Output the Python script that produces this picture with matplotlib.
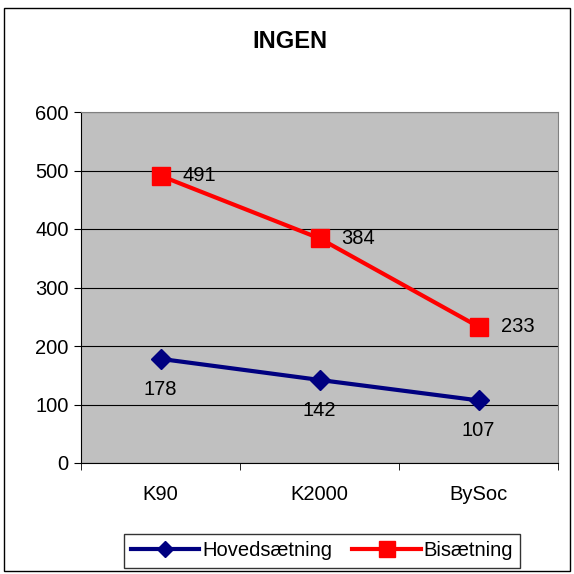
import matplotlib.pyplot as plt
from matplotlib.patches import Rectangle

plt.rcParams["font.family"] = ["Liberation Sans", "DejaVu Sans"]

categories = ["K90", "K2000", "BySoc"]
hovedsaetning = [178, 142, 107]
bisaetning = [491, 384, 233]

fs = 14.5

fig = plt.figure(figsize=(5.74, 5.74), dpi=100)
ax = fig.add_axes([81 / 574, 1 - 463 / 574, 477 / 574, 351 / 574])

# outer chart border
fig.patches.append(Rectangle((4 / 574, 3 / 574), 566 / 574, 563 / 574,
                             transform=fig.transFigure, fill=False,
                             edgecolor="black", linewidth=1.0))

ax.set_facecolor("#c0c0c0")
x = range(len(categories))

ax.plot(x, hovedsaetning, color="#000080", linewidth=3, marker="D",
        markersize=10, label="Hovedsætning", zorder=3)
ax.plot(x, bisaetning, color="#ff0000", linewidth=3, marker="s",
        markersize=13.5, label="Bisætning", zorder=3)

for i, v in enumerate(hovedsaetning):
    ax.annotate(str(v), (i, v), xytext=(0, -22), textcoords="offset points",
                ha="center", va="center", fontsize=fs)
for i, v in enumerate(bisaetning):
    ax.annotate(str(v), (i, v), xytext=(28, 0), textcoords="offset points",
                ha="center", va="center", fontsize=fs)

ax.set_xlim(-0.5, 2.5)
ax.set_ylim(0, 600)
ax.set_yticks(range(0, 601, 100))
ax.set_xticks(x)
ax.set_xticklabels(categories)
ax.set_xticks([-0.5, 0.5, 1.5, 2.5], minor=True)
ax.tick_params(axis="x", which="major", length=0, pad=16, labelsize=fs)
ax.tick_params(axis="x", which="minor", length=5, direction="out")
ax.tick_params(axis="y", length=5, direction="out", labelsize=fs, pad=4)
ax.yaxis.grid(True, color="black", linewidth=0.8)
ax.set_axisbelow(True)

for side in ("top", "right"):
    ax.spines[side].set_color("#808080")
for side in ("left", "bottom"):
    ax.spines[side].set_color("black")

fig.text(290 / 574, 1 - 42 / 574, "INGEN", ha="center", va="center",
         fontsize=17, fontweight="bold")

leg = fig.legend(loc="center", bbox_to_anchor=(322 / 574, 1 - 551 / 574),
                 ncol=2, fontsize=fs, frameon=True, fancybox=False,
                 edgecolor="black", handlelength=3.4, handletextpad=0.15,
                 columnspacing=1.0, borderpad=0.35, borderaxespad=0,
                 markerscale=0.85)
leg.get_frame().set_linewidth(1.0)

fig.savefig("out.png", dpi=100)
